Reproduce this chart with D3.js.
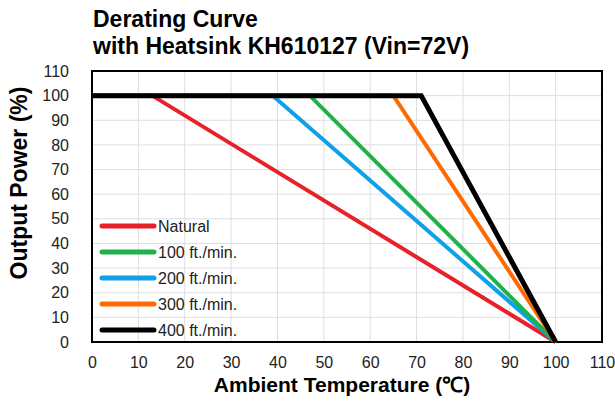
<!DOCTYPE html>
<html>
<head>
<meta charset="utf-8">
<script src="https://cdn.jsdelivr.net/npm/d3@7"></script>
<style>
  body { margin: 0; background: #fff; }
  text { font-family: "Liberation Sans", Arial, sans-serif; }
</style>
</head>
<body>
<div id="chart"></div>
<script>
// derating data
var seriesNames = ["Natural", "100 ft./min.", "200 ft./min.", "300 ft./min.", "400 ft./min."];
var seriesColors = ["#e8202a", "#22b04b", "#10a0e8", "#ff6a00", "#000000"];
var kneeTemps = [13, 47, 39, 65, 71];   // temp where derating starts (100%)
var endTemp = 100;                       // all reach 0% here
var xTicks = [0, 10, 20, 30, 40, 50, 60, 70, 80, 90, 100, 110];
var yTicks = [0, 10, 20, 30, 40, 50, 60, 70, 80, 90, 100, 110];

var W = 615, H = 401;
var margin = { top: 71, right: 13, bottom: 59, left: 92 },
  width = W - margin.left - margin.right,
  height = H - margin.top - margin.bottom;

var svg = d3.select("#chart").append("svg")
  .attr("width", W).attr("height", H);

svg.append("text").attr("x", 93).attr("y", 27)
  .style("font-size", "23px").style("font-weight", "bold")
  .text("Derating Curve");
svg.append("text").attr("x", 93).attr("y", 54)
  .style("font-size", "23px").style("font-weight", "bold")
  .text("with Heatsink KH610127 (Vin=72V)");

var g = svg.append("g")
  .attr("transform", "translate(" + margin.left + "," + margin.top + ")");

var x = d3.scaleLinear().domain([0, 110]).range([0, width]);
var y = d3.scaleLinear().domain([0, 110]).range([height, 0]);

// grid
g.append("g").selectAll("line").data(xTicks.slice(1, -1)).enter().append("line")
  .attr("x1", d => x(d)).attr("x2", d => x(d))
  .attr("y1", 0).attr("y2", height)
  .attr("stroke", "#dedede").attr("stroke-width", 1);
g.append("g").selectAll("line").data(yTicks.slice(1, -1)).enter().append("line")
  .attr("y1", d => y(d)).attr("y2", d => y(d))
  .attr("x1", 0).attr("x2", width)
  .attr("stroke", "#dedede").attr("stroke-width", 1);

// axes (labels only, frame drawn separately)
var xAxis = g.append("g").attr("transform", "translate(0," + height + ")")
  .call(d3.axisBottom(x).tickValues(xTicks).tickSize(0).tickPadding(15));
var yAxis = g.append("g")
  .call(d3.axisLeft(y).tickValues(yTicks).tickSize(0).tickPadding(23));
[xAxis, yAxis].forEach(function(a) {
  a.select(".domain").remove();
  a.selectAll("text").style("font-size", "16px").attr("fill", "#222")
    .style("font-family", "'Liberation Sans', Arial, sans-serif");
});

g.append("rect").attr("width", width).attr("height", height)
  .attr("fill", "none").attr("stroke", "#000").attr("stroke-width", 2);

// lines
var line = d3.line().x(d => x(d[0])).y(d => y(d[1]));
var order = [0, 2, 1, 3, 4];
order.forEach(function(i) {
  var pts = [[0, 100], [kneeTemps[i], 100], [endTemp, 0]];
  g.append("path").datum(pts)
    .attr("d", line)
    .attr("fill", "none")
    .attr("stroke", seriesColors[i])
    .attr("stroke-width", i == 4 ? 5 : 4)
    .attr("stroke-linejoin", "miter");
});

// legend
var leg = g.append("g").attr("transform", "translate(10," + (y(0) - 116) + ")");
seriesNames.forEach(function(n, i) {
  var row = leg.append("g").attr("transform", "translate(0," + (i * 26) + ")");
  row.append("line").attr("x1", 0).attr("x2", 52)
    .attr("stroke", seriesColors[i]).attr("stroke-width", 5)
    .attr("stroke-linecap", "round");
  row.append("text").attr("x", 56).attr("y", 6)
    .style("font-size", "16px").attr("fill", "#222").text(n);
});

// axis titles
svg.append("text")
  .attr("x", 342).attr("y", 392)
  .attr("text-anchor", "middle")
  .style("font-size", "21px").style("font-weight", "bold")
  .text("Ambient Temperature (℃)");
svg.append("text")
  .attr("transform", "translate(27,183) rotate(-90)")
  .attr("text-anchor", "middle")
  .style("font-size", "23px").style("font-weight", "bold")
  .text("Output Power (%)");
</script>
</body>
</html>
